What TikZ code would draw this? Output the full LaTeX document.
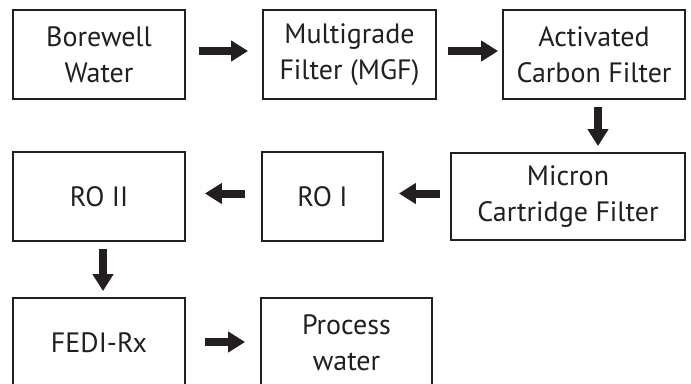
\documentclass[tikz,border=0pt]{standalone}
\usepackage{fontspec}
\setmainfont{PT Sans}
\usetikzlibrary{arrows.meta}
\definecolor{ink}{HTML}{231F20}
\begin{document}
\begin{tikzpicture}[x=1pt,y=-1pt,
  box/.style={draw=ink, line width=1.8pt, text=ink, align=center,
    font=\fontsize{28}{36}\selectfont, inner sep=0pt},
  arr/.style={draw=ink, line width=8pt, -{Triangle[length=17pt,width=20pt]}}]
\useasboundingbox (0,0) rectangle (691,383);
\node[box, minimum width=172pt, minimum height=89pt] (b1) at (99,54.5) {Borewell\\Water};
\node[box, minimum width=173pt, minimum height=89pt] (b2) at (349.5,54.5) {Multigrade\\Filter (MGF)};
\node[box, minimum width=182pt, minimum height=89pt] (b3) at (594,54.5) {Activated\\Carbon Filter};
\node[box, minimum width=234pt, minimum height=87pt] (b4) at (568,196.5) {Micron\\Cartridge Filter};
\node[box, minimum width=121pt, minimum height=89pt] (b5) at (322.5,196.5) {RO I};
\node[box, minimum width=172pt, minimum height=89pt] (b6) at (99,196.5) {RO II};
\node[box, minimum width=172pt, minimum height=89pt] (b7) at (99,342.5) {FEDI-Rx};
\node[box, minimum width=171pt, minimum height=89pt] (b8) at (346.5,342.5) {Process\\water};
\draw[arr, shorten <=13pt, shorten >=14pt] ([yshift=3.5pt]b1.east) -- ([yshift=3.5pt]b2.west);
\draw[arr, shorten <=11pt, shorten >=4pt] ([yshift=3.5pt]b2.east) -- ([yshift=3.5pt]b3.west);
\draw[arr, shorten <=7pt, shorten >=6pt] ([xshift=4pt]b3.south) -- ([xshift=4pt]b3.south |- b4.north);
\draw[arr, shorten <=10pt, shorten >=15pt] ([yshift=3pt]b4.west) -- ([yshift=3pt]b5.east);
\draw[arr, shorten <=16pt, shorten >=19pt] ([yshift=3pt]b5.west) -- ([yshift=3pt]b6.east);
\draw[arr, shorten <=7pt, shorten >=6pt] ([xshift=4pt]b6.south) -- ([xshift=4pt]b7.north);
\draw[arr, shorten <=19pt, shorten >=15pt] ([yshift=0.5pt]b7.east) -- ([yshift=0.5pt]b8.west);
\end{tikzpicture}
\end{document}
